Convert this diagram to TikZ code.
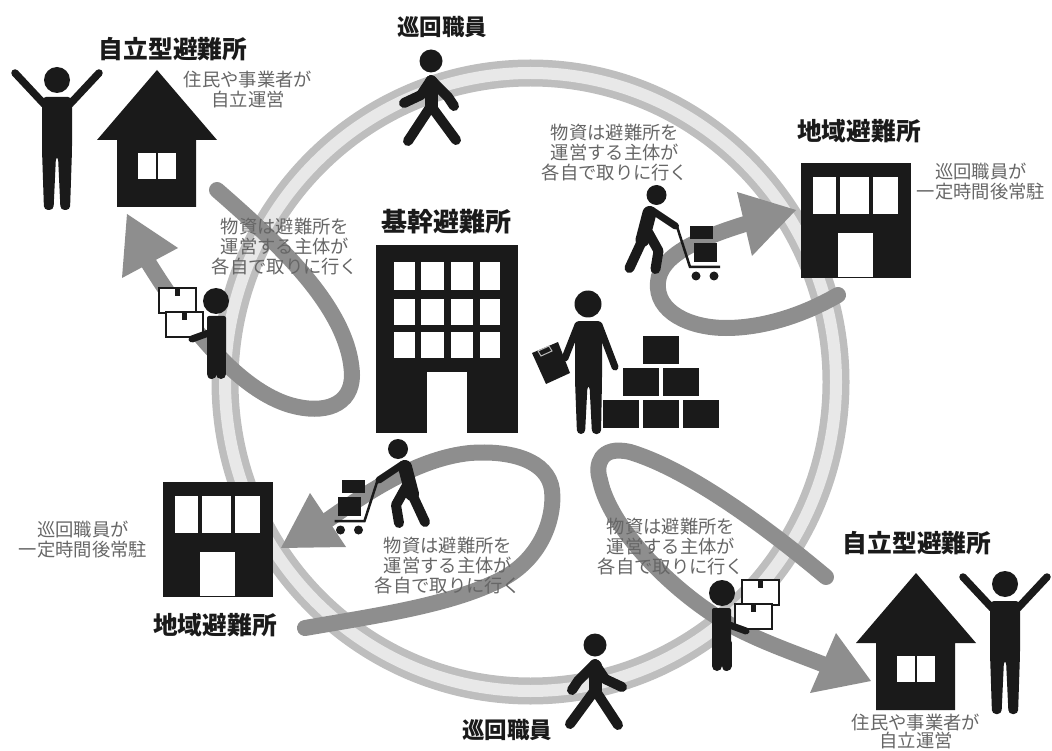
\documentclass[tikz,border=0pt]{standalone}
\usepackage{fontspec}
\setmainfont{Noto Sans CJK JP}
\definecolor{ink}{HTML}{1A1A1A}
\definecolor{ringout}{HTML}{BEBEBE}
\definecolor{ringin}{HTML}{E8E8E8}
\definecolor{flow}{HTML}{8E8E8E}
\definecolor{note}{HTML}{666666}
\tikzset{
	limb/.style={draw=ink,line width=10pt,line cap=round,line join=round},
	flowline/.style={draw=flow,line width=16pt,line cap=round},
	flowhead/.style={fill=flow},
	notetext/.style={text=note,align=center,inner sep=0pt,font=\fontsize{18.3}{20}\selectfont},
	titletext/.style={text=ink,inner sep=0pt,font=\fontsize{24.7}{26}\selectfont\bfseries},
	% a house, from the top of its roof
	pics/house/.style={code={
		\fill[ink] (0,0) -- (60,70) -- (39,70) -- (39,137) -- (-40,137) -- (-40,70) -- (-60,70) -- cycle;
		\fill[white] (-19,83) rectangle (-1,109);
		\fill[white] (1,83) rectangle (19,109);
	}},
	% a low building, from its upper left corner
	pics/lowbldg/.style={code={
		\fill[ink] (0,0) rectangle (110,115);
		\fill[white] (12,14) rectangle (35,51);
		\fill[white] (39,14) rectangle (68,51);
		\fill[white] (72,14) rectangle (97,51);
		\fill[white] (37,70) rectangle (72,114);
	}},
	% the person with raised arms, from the head
	pics/cheer/.style={code={
		\fill[ink] (0,0) circle (13);
		\fill[ink,rounded corners=4pt] (-15,17) -- (15,17) -- (15,70) -- (13,130) -- (3.5,130) -- (1,76) -- (-1,76) -- (-3.5,130) -- (-13,130) -- (-15,70) -- cycle;
		\draw[limb,line width=7.5pt] (-42,-7) -- (-13,24);
		\draw[limb,line width=7.5pt] (42,-7) -- (13,24);
	}},
	% the walking person, from the head
	pics/walker/.style={code={
		\fill[ink] (0,0) circle (11.5);
		\draw[limb,line width=13pt] (0,21) -- (0,45);
		\draw[limb] (0,19) -- (-10,34) -- (-27,42);
		\draw[limb] (0,19) -- (17,36) -- (23,45);
		\draw[limb] (-23,80) -- (0,45) -- (25,79);
	}},
	% the person carrying parcels, from the head
	pics/carrier/.style={code={
		\fill[ink] (0,0) circle (13);
		\fill[ink,rounded corners=2pt] (-9,15) rectangle (10,55);
		\draw[limb] (-4.5,50) -- (-4.5,73);
		\draw[limb] (5,50) -- (5,73);
		\foreach \xa/\ya in {-57/-13,-50/11} {
			\draw[ink,fill=white,line width=1.6pt] (\xa,\ya) rectangle ++(37,25);
			\fill[ink] (\xa+16,\ya) rectangle ++(5,8);
		}
		\draw[limb,line width=7pt] (-2,30) -- (-24,38);
	}},
	% the person pushing a cart, from the head
	pics/cartman/.style={code={
		\fill[ink] (0,0) circle (10);
		\draw[limb,line width=14pt] (-7,18) -- (-14,45);
		\draw[limb] (-14,45) -- (-27,73);
		\draw[limb] (-8,38) -- (2,56) -- (-1,74);
		\draw[limb,line width=7pt] (-5,15) -- (19,31);
		\draw[ink,line width=2.5pt] (20,30) -- (33.5,72) -- (63.5,72);
		\fill[ink] (33.5,31) rectangle (56.5,44);
		\fill[ink] (37.5,48) rectangle (60.5,67);
		\fill[ink] (39.5,81) circle (4.5);
		\fill[ink] (57.5,81) circle (4.5);
	}}
}

\begin{document}
\begin{tikzpicture}[x=1pt,y=-1pt]
	\useasboundingbox (0,0) rectangle (1052,751);
	% the patrol ring
	\draw[ringout,line width=27pt] (530.5,382) ellipse [x radius=305.5,y radius=309];
	\draw[ringin,line width=12pt] (530.5,382) ellipse [x radius=305.5,y radius=309];
	% the four supply loops
	\draw[flowline] (217,190) .. controls (280,245) and (350,310) .. (352,375) .. controls (352,405) and (325,415) .. (290,405) .. controls (240,390) and (190,330) .. (148,262);
	\fill[flowhead] (127,214) -- (178,248) -- (122,278) -- cycle;
	\draw[flowline] (838,295) .. controls (800,317) and (760,328) .. (726,328) .. controls (690,328) and (655,312) .. (658,282) .. controls (660,255) and (700,238) .. (745,224);
	\fill[flowhead] (796,210) -- (737,192) -- (752,256) -- cycle;
	\draw[flowline] (305,628) .. controls (380,615) and (450,605) .. (500,580) .. controls (540,560) and (555,520) .. (552,490) .. controls (548,460) and (510,450) .. (470,453) .. controls (420,458) and (370,490) .. (325,522);
	\fill[flowhead] (281,548) -- (310,493) -- (346,547) -- cycle;
	\draw[flowline] (826,577) .. controls (770,530) and (690,470) .. (630,452) .. controls (600,445) and (595,465) .. (600,480) .. controls (610,530) and (680,600) .. (740,630) .. controls (770,645) and (800,655) .. (830,667);
	\fill[flowhead] (871,681) -- (836,633) -- (810,693) -- cycle;
	% the main shelter
	\fill[ink] (376,245) rectangle (518,433);
	\foreach \xa/\xb in {394/415,421/444,451/473,480/500}
		\foreach \ya/\yb in {262/290,299/325,332/358}
			\fill[white] (\xa,\ya) rectangle (\xb,\yb);
	\fill[white] (427,372) rectangle (467,433);
	% the staff member and the stock
	\fill[ink] (588,304) circle (13.5);
	\fill[ink,rounded corners=4pt] (575,321) -- (602,321) -- (602,380) -- (601,434) -- (592,434) -- (589.5,385) -- (587.5,385) -- (585,434) -- (577,434) -- (575,380) -- cycle;
	\draw[limb,line width=7pt] (599,325) -- (615,367);
	\draw[limb,line width=7pt] (578,325) -- (565,358);
	\fill[ink] (532,353) -- (558,342) -- (570,373) -- (546,384) -- cycle;
	\draw[white!70!ink,line width=1pt] (538,351) -- (549,346) -- (552,351) -- (541,356) -- cycle;
	\foreach \xa/\ya in {643/336,623/368,663/368,603/400,643/400,683/400}
		\fill[ink] (\xa,\ya) rectangle ++(36,27.5);
	% the shelters and the people round them
	\pic at (157,70) {house};
	\pic at (916,573) {house};
	\pic at (801,163) {lowbldg};
	\pic at (163,482) {lowbldg};
	\pic at (57,80) {cheer};
	\pic at (1005,584) {cheer};
	\pic at (431,61) {walker};
	\pic[xscale=-1] at (595,645) {walker};
	\pic at (216,301) {carrier};
	\pic[xscale=-1] at (722,593) {carrier};
	\pic at (656.5,195) {cartman};
	\pic[xscale=-1] at (398,449) {cartman};
	% titles
	\node[titletext,font=\fontsize{22.5}{24}\selectfont\bfseries] (patrolA) at (442,27) {巡回職員};
	\node[titletext,font=\fontsize{22.5}{24}\selectfont\bfseries] (patrolB) at (507,730) {巡回職員};
	\node[titletext] (selfA) at (173,49) {自立型避難所};
	\node[titletext] (selfB) at (917,543) {自立型避難所};
	\node[titletext,font=\fontsize{26}{28}\selectfont\bfseries] (mainname) at (446,222) {基幹避難所};
	\node[titletext] (localA) at (859,131) {地域避難所};
	\node[titletext] (localB) at (215,625) {地域避難所};
	% notes
	\node[notetext] (runA) at (248,90) {住民や事業者が\\自立運営};
	\node[notetext,font=\fontsize{18.3}{18}\selectfont] (runB) at (916,731) {住民や事業者が\\自立運営};
	\node[notetext] (goA) at (285,247) {物資は避難所を\\運営する主体が\\各自で取りに行く};
	\node[notetext] (goB) at (615,153) {物資は避難所を\\運営する主体が\\各自で取りに行く};
	\node[notetext] (goC) at (448,566) {物資は避難所を\\運営する主体が\\各自で取りに行く};
	\node[notetext] (goD) at (671,547) {物資は避難所を\\運営する主体が\\各自で取りに行く};
	\node[notetext] (stayA) at (981,182) {巡回職員が\\一定時間後常駐};
	\node[notetext] (stayB) at (83,540) {巡回職員が\\一定時間後常駐};
\end{tikzpicture}
\end{document}
